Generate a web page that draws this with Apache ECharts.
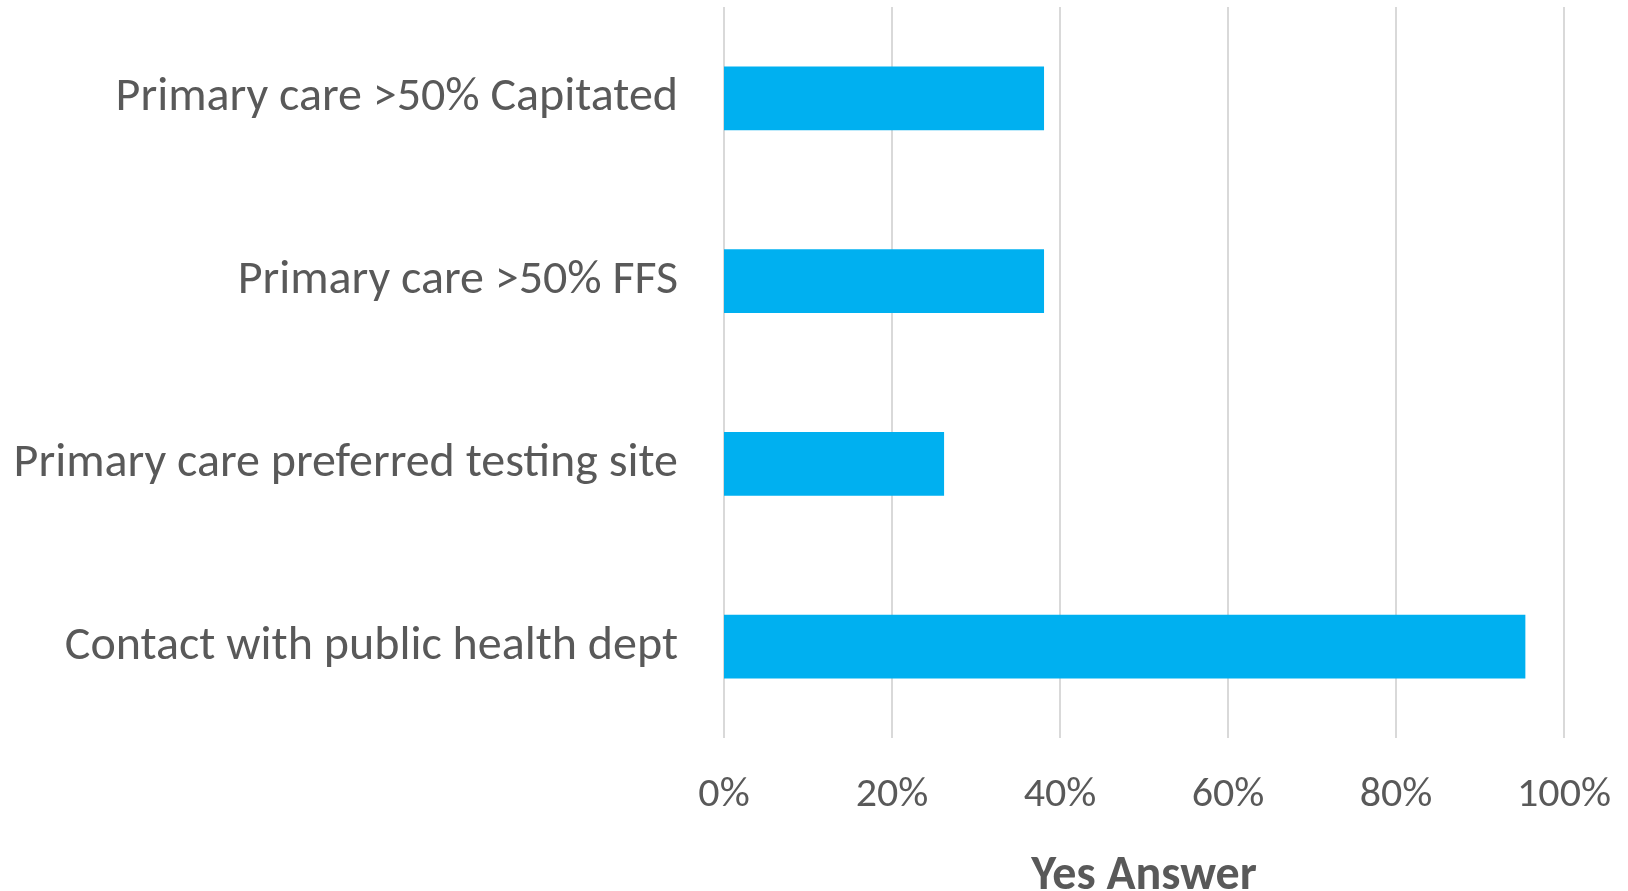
<!DOCTYPE html>
<html>
<head>
<meta charset="utf-8">
<script src="https://cdn.jsdelivr.net/npm/echarts@6/dist/echarts.min.js"></script>
<style>
  html, body { margin: 0; padding: 0; background: #fff; }
  #main { width: 1628px; height: 891px; }
</style>
</head>
<body>
<div id="main"></div>
<script>
// categories, top to bottom
var categories = [
    'Primary care >50% Capitated',
    'Primary care >50% FFS',
    'Primary care preferred testing site',
    'Contact with public health dept'
];
// share answering yes
var yesValues = [0.381, 0.381, 0.262, 0.954];
var xTicks = [0, 0.2, 0.4, 0.6, 0.8, 1];

var fontStack = 'Carlito, "Liberation Sans Narrow", "Open Sans", sans-serif';

var myChart = echarts.init(document.getElementById('main'));
myChart.setOption({
    animation: false,
    grid: { left: 724, right: 64, top: 7, bottom: 153, outerBoundsMode: 'none', containLabel: false },
    xAxis: {
        type: 'value',
        min: xTicks[0],
        max: xTicks[xTicks.length - 1],
        interval: 0.2,
        name: 'Yes Answer',
        nameLocation: 'middle',
        nameGap: 115,
        nameTextStyle: { color: '#595959', fontSize: 48, fontWeight: 'bold', fontFamily: fontStack },
        axisLine: { show: false },
        axisTick: { show: false },
        axisLabel: {
            color: '#595959', fontSize: 42, fontFamily: fontStack, margin: 36,
            formatter: function (v) { return Math.round(v * 100) + '%'; }
        },
        splitLine: { lineStyle: { color: '#D9D9D9', width: 2 } }
    },
    yAxis: {
        type: 'category',
        data: categories,
        inverse: true,
        axisLine: { show: false },
        axisTick: { show: false },
        axisLabel: { color: '#595959', fontSize: 48, fontFamily: fontStack, margin: 46 }
    },
    series: [{
        type: 'bar',
        data: yesValues,
        barCategoryGap: '65%',
        itemStyle: { color: '#00B0F0' }
    }]
});
</script>
</body>
</html>
